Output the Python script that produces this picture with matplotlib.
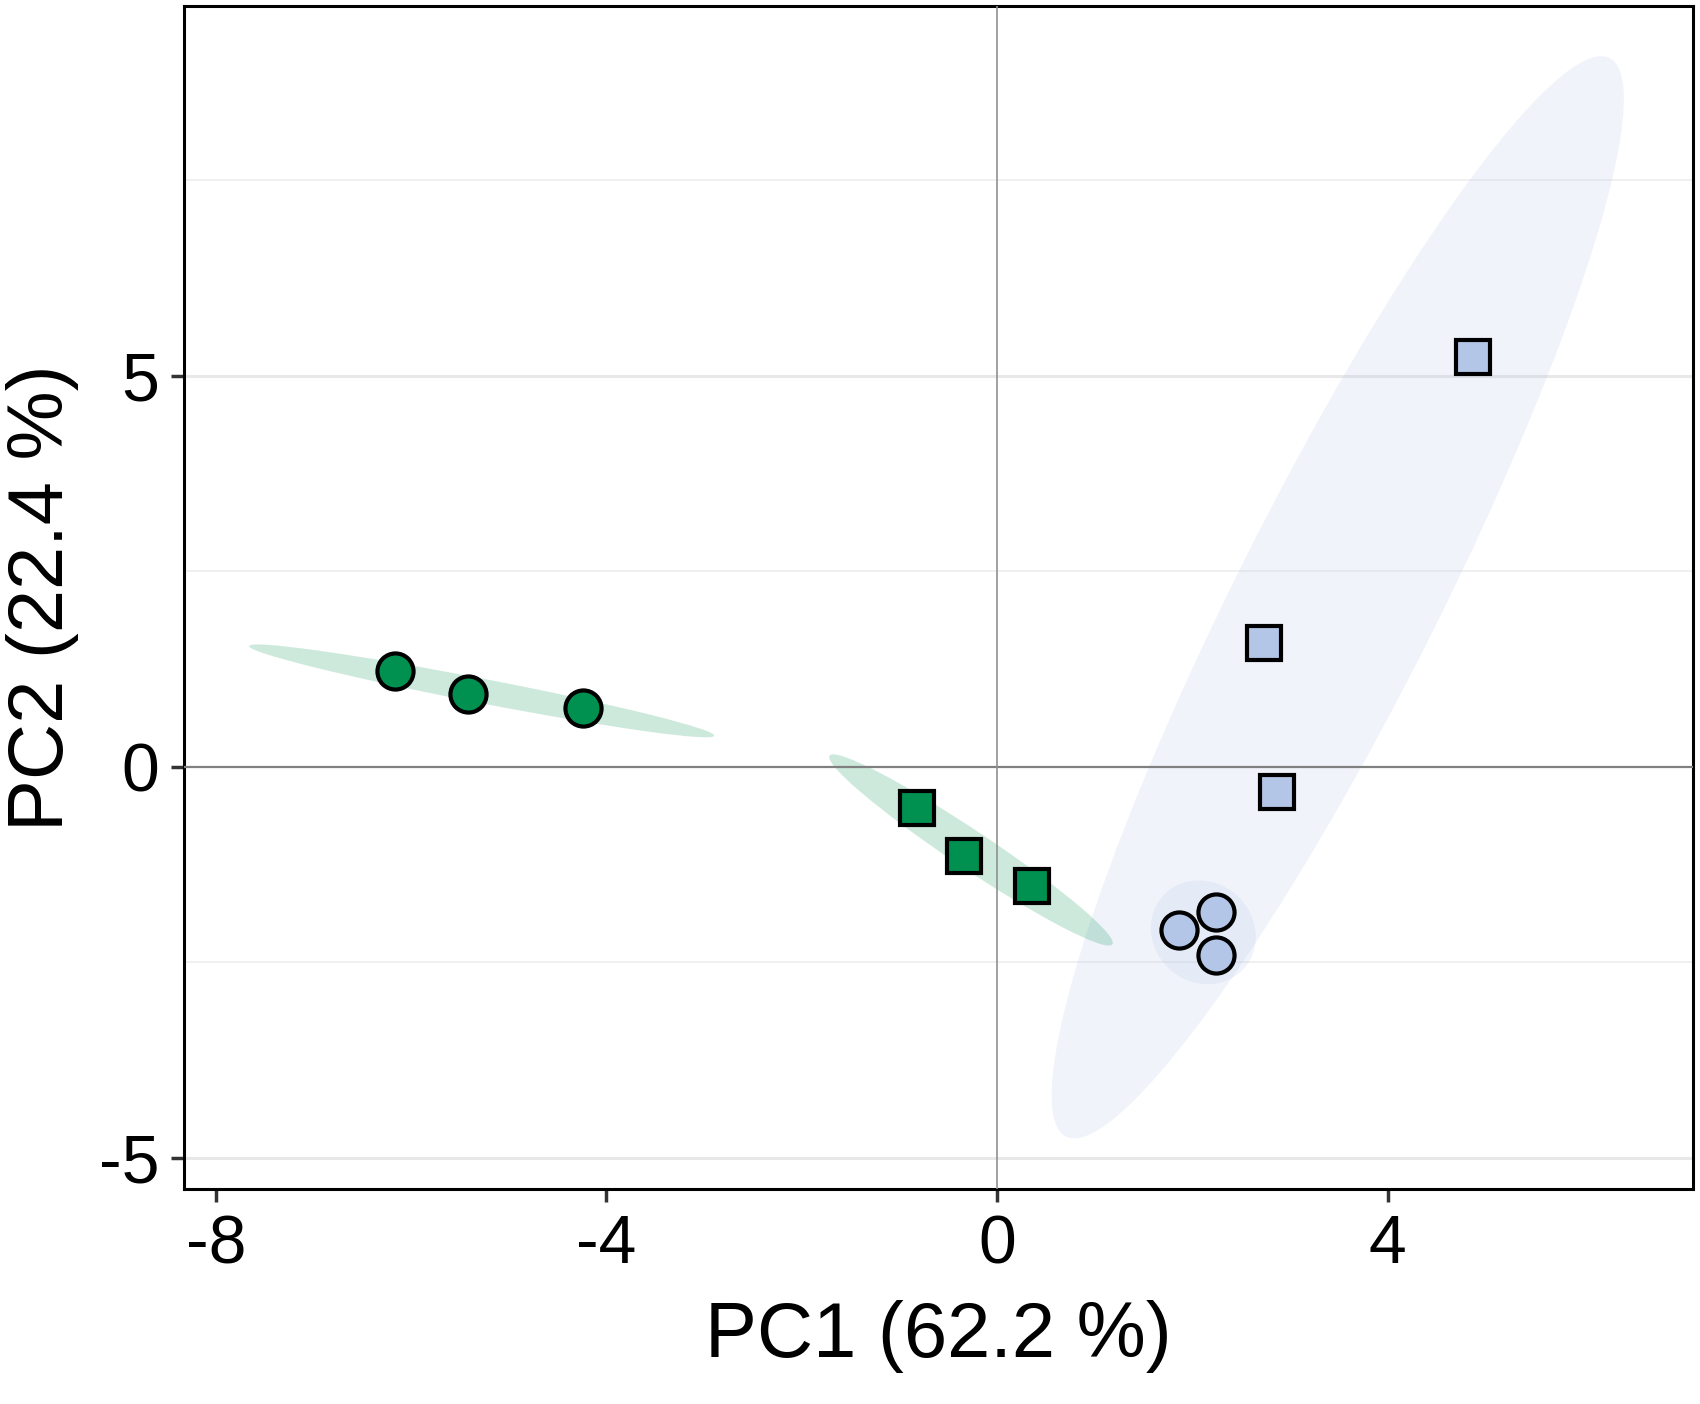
import numpy as np
import matplotlib
matplotlib.use("Agg")
from matplotlib import pyplot as plt
from matplotlib.patches import Ellipse

plt.rcParams['font.family'] = ['Liberation Sans', 'DejaVu Sans']

# PCA scores, four groups of three
green_circle_x = [-6.17, -5.42, -4.24]
green_circle_y = [1.23, 0.93, 0.75]
green_square_x = [-0.82, -0.34, 0.36]
green_square_y = [-0.53, -1.14, -1.52]
blue_square_x = [4.87, 2.73, 2.87]
blue_square_y = [5.24, 1.58, -0.32]
blue_circle_x = [1.86, 2.24, 2.24]
blue_circle_y = [-2.09, -1.86, -2.40]

x_ticks = [-8, -4, 0, 4]
y_ticks = [-5, 0, 5]
x_label = "PC1 (62.2 %)"
y_label = "PC2 (22.4 %)"

GREEN = "#009150"
BLUE = "#B4C6E7"


def normalEllipse(x, y, color, level=0.95):
    # 95 % normal ellipse, like stat_ellipse(type = "norm") with chi-square radius
    pts = np.column_stack([x, y])
    center = pts.mean(axis=0)
    cov = np.cov(pts, rowvar=False)
    vals, vecs = np.linalg.eigh(cov)
    order = vals.argsort()[::-1]
    vals, vecs = vals[order], vecs[:, order]
    r = np.sqrt(-2 * np.log(1 - level))
    angle = np.degrees(np.arctan2(vecs[1, 0], vecs[0, 0]))
    return Ellipse(center, 2 * r * np.sqrt(vals[0]), 2 * r * np.sqrt(vals[1]),
                   angle=angle, facecolor=color, edgecolor='none', alpha=0.2, zorder=2)


fig = plt.figure(figsize=(17, 14.04), dpi=100)
ax = fig.add_axes([0.108, 0.153, 0.888, 0.843])

ax.set_xlim(-8.33, 7.13)
ax.set_ylim(-5.40, 9.73)

# grid: major on the breaks, minor halfway
for v in [-5, 5]:
    ax.axhline(v, color="#E8E8E8", lw=2.2, zorder=1)
for v in [-2.5, 2.5, 7.5]:
    ax.axhline(v, color="#EDEDED", lw=1.2, zorder=1)

for xs, ys, col in [(blue_square_x, blue_square_y, BLUE),
                    (blue_circle_x, blue_circle_y, BLUE),
                    (green_circle_x, green_circle_y, GREEN),
                    (green_square_x, green_square_y, GREEN)]:
    ax.add_patch(normalEllipse(xs, ys, col))

ax.axhline(0, color="#808080", lw=1.6, zorder=3)
ax.axvline(0, color="#909090", lw=1.2, zorder=3)

ax.plot(green_circle_x, green_circle_y, 'o', ms=26, mfc=GREEN, mec='black', mew=3, ls='none', zorder=5)
ax.plot(green_square_x, green_square_y, 's', ms=25, mfc=GREEN, mec='black', mew=3, ls='none', zorder=5)
ax.plot(blue_square_x, blue_square_y, 's', ms=25, mfc=BLUE, mec='black', mew=3, ls='none', zorder=5)
ax.plot(blue_circle_x, blue_circle_y, 'o', ms=26, mfc=BLUE, mec='black', mew=3, ls='none', zorder=5)

ax.set_xticks(x_ticks)
ax.set_yticks(y_ticks)
ax.set_xticklabels([str(t) for t in x_ticks])
ax.set_yticklabels([str(t) for t in y_ticks])
ax.tick_params(axis='both', labelsize=49, width=2.5, length=9.5, color="#333333", pad=8)

for s in ax.spines.values():
    s.set_linewidth(2.2)
    s.set_color('black')

ax.set_xlabel(x_label, fontsize=56, labelpad=16)
ax.set_ylabel(y_label, fontsize=56, labelpad=14)

fig.savefig("out.png", dpi=100)
